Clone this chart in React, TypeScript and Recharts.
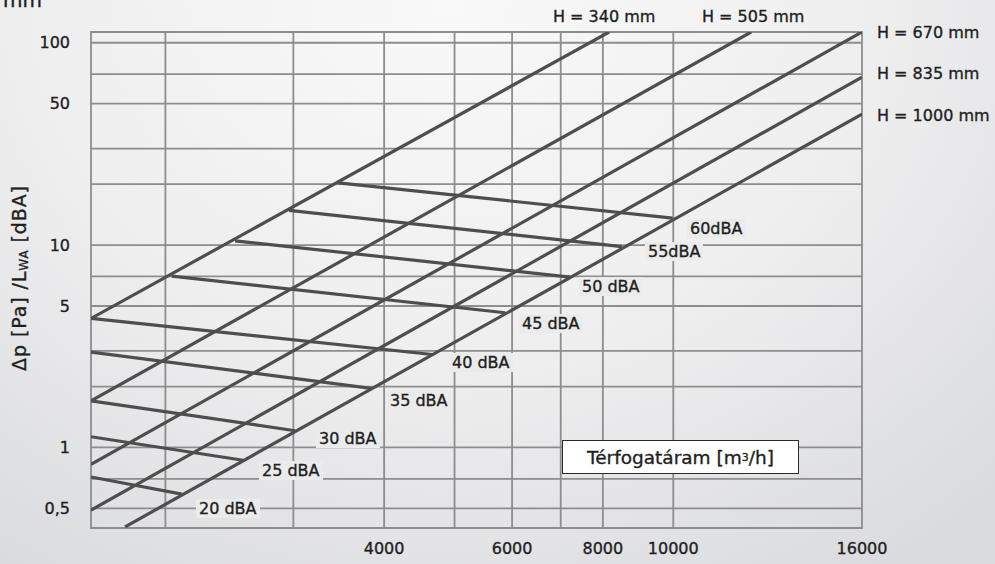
import React from "react";
import { LineChart, Line, XAxis, YAxis, CartesianGrid, ReferenceArea } from "recharts";

const FONT = "'DejaVu Sans', 'Liberation Sans', sans-serif";

// diagonal lines, one per unit height: flow [m3/h] and pressure drop [Pa] at both ends
const hNames = ["H = 340 mm", "H = 505 mm", "H = 670 mm", "H = 835 mm", "H = 1000 mm"];
const hFlow = [
  [1580, 8160],
  [1580, 12140],
  [1580, 16000],
  [1580, 16000],
  [1760, 16000],
];
const hDp = [
  [4.34, 113],
  [1.7, 113],
  [0.826, 113],
  [0.49, 67.6],
  [0.405, 44.4],
];

// sound power lines
const dbaNames = ["20 dBA", "25 dBA", "30 dBA", "35 dBA", "40 dBA", "45 dBA", "50 dBA", "55dBA", "60dBA"];
const dbaFlow = [
  [1580, 2107],
  [1580, 2558],
  [1580, 3017],
  [1580, 3838],
  [1580, 4658],
  [2041, 5870],
  [2494, 7212],
  [2960, 8503],
  [3460, 9980],
];
const dbaDp = [
  [0.715, 0.588],
  [1.13, 0.865],
  [1.7, 1.21],
  [2.96, 1.96],
  [4.34, 2.88],
  [7.02, 4.63],
  [10.5, 6.95],
  [14.85, 9.83],
  [20.3, 13.6],
];

const xTicks = [4000, 6000, 8000, 10000, 16000];
const xGrid = [2000, 3000, 4000, 5000, 6000, 7000, 8000, 9000, 10000];
const yTicks = [0.5, 1, 5, 10, 50, 100];
const yGrid = [0.5, 0.6, 0.7, 0.8, 0.9, 1, 2, 3, 4, 5, 6, 7, 8, 9, 10, 20, 30, 40, 50, 60, 70, 80, 90, 100];

const Q_MIN = 1580;
const Q_MAX = 16000;
const DP_MIN = 0.4;
const DP_MAX = 113;

// the printed axis is logarithmic up to 10000, the last section (10000-16000) is drawn wider
const STRETCH = 1.2724;

function axisPos(q: number) {
  const l = Math.log10(q);
  return l <= 4 ? l : 4 + (l - 4) * STRETCH;
}

function flowAt(u: number) {
  return u <= 4 ? Math.pow(10, u) : Math.pow(10, 4 + (u - 4) / STRETCH);
}

const GRID = "#8d8d8d";
const INK = "#4e4e4e";
const TEXT = "#1f1f1f";

// annotation placement (left x, centre y)
const hLabelPos = [
  [553, 16],
  [702, 16],
  [877, 32],
  [877, 73],
  [877, 115],
];
const dbaLabelPos = [
  [199, 508],
  [262, 470],
  [319, 438],
  [390, 400],
  [452, 362],
  [522, 323],
  [582, 286],
  [648, 251],
  [690, 228],
];

function toRows(flow: number[], dp: number[]) {
  return flow.map((q, j) => ({ u: axisPos(q), dp: dp[j] }));
}

export default function App() {
  const labelStyle: React.CSSProperties = {
    position: "absolute",
    fontFamily: FONT,
    fontSize: 16,
    lineHeight: "17px",
    color: TEXT,
    whiteSpace: "nowrap",
    WebkitTextStroke: "0.35px " + TEXT,
  };
  const tickStyle = {
    fill: TEXT,
    fontSize: 16,
    fontFamily: FONT,
    stroke: TEXT,
    strokeWidth: 0.35,
  };

  return (
    <div
      style={{
        position: "absolute",
        left: 0,
        top: 0,
        width: 995,
        height: 564,
        overflow: "hidden",
        background:
          "radial-gradient(ellipse 80% 120% at 45% 0%, #f9f9f9 0%, #eeeeef 55%, #dadbde 100%)",
      }}
    >
      <LineChart
        width={995}
        height={564}
        margin={{ top: 32, right: 133, bottom: 6, left: 31 }}
      >
        <CartesianGrid
          stroke={GRID}
          strokeWidth={1.8}
          horizontalValues={yGrid}
          verticalValues={xGrid.map(axisPos)}
        />
        <ReferenceArea
          x1={axisPos(Q_MIN)}
          x2={axisPos(Q_MAX)}
          y1={DP_MIN}
          y2={DP_MAX}
          fill="none"
          fillOpacity={0}
          stroke={GRID}
          strokeWidth={1.8}
        />
        <XAxis
          dataKey="u"
          type="number"
          domain={[axisPos(Q_MIN), axisPos(Q_MAX)]}
          ticks={xTicks.map(axisPos)}
          tickFormatter={(v: number) => String(Math.round(flowAt(v) / 1000) * 1000)}
          allowDataOverflow
          axisLine={false}
          tickLine={false}
          tickSize={0}
          tickMargin={15}
          height={30}
          tick={tickStyle}
        />
        <YAxis
          type="number"
          scale="log"
          domain={[DP_MIN, DP_MAX]}
          ticks={yTicks}
          tickFormatter={(v: number) => String(v).replace(".", ",")}
          allowDataOverflow
          axisLine={false}
          tickLine={false}
          tickSize={0}
          tickMargin={21}
          width={60}
          tick={tickStyle}
        />
        {hNames.map((name, i) => (
          <Line
            key={name}
            name={name}
            data={toRows(hFlow[i], hDp[i])}
            dataKey="dp"
            type="linear"
            stroke={INK}
            strokeWidth={3.2}
            dot={false}
            activeDot={false}
            isAnimationActive={false}
          />
        ))}
        {dbaNames.map((name, i) => (
          <Line
            key={name}
            name={name}
            data={toRows(dbaFlow[i], dbaDp[i])}
            dataKey="dp"
            type="linear"
            stroke={INK}
            strokeWidth={3.2}
            dot={false}
            activeDot={false}
            isAnimationActive={false}
          />
        ))}
      </LineChart>

      <div style={{ ...labelStyle, left: 3, top: -10, fontSize: 20, lineHeight: "20px" }}>mm</div>

      {hNames.map((name, i) => (
        <div key={name} style={{ ...labelStyle, left: hLabelPos[i][0], top: hLabelPos[i][1] - 8.5 }}>
          {name}
        </div>
      ))}

      {dbaNames.map((name, i) => (
        <div
          key={name}
          style={{
            ...labelStyle,
            left: dbaLabelPos[i][0] - 3,
            top: dbaLabelPos[i][1] - 9,
            padding: "1px 3px",
            background: "#ebebeb",
          }}
        >
          {name}
        </div>
      ))}

      <div
        style={{
          position: "absolute",
          left: 562,
          top: 440,
          width: 237,
          height: 34,
          boxSizing: "border-box",
          border: "1.5px solid #2a2a2a",
          background: "#ffffff",
          fontFamily: FONT,
          fontSize: 18.5,
          color: TEXT,
          WebkitTextStroke: "0.35px " + TEXT,
          display: "flex",
          alignItems: "center",
          justifyContent: "center",
          whiteSpace: "nowrap",
        }}
      >
        Térfogatáram [m<sup style={{ fontSize: "0.6em", verticalAlign: "0.55em" }}>3</sup>/h]
      </div>

      <svg
        width={60}
        height={564}
        style={{ position: "absolute", left: 0, top: 0, pointerEvents: "none" }}
      >
        <text
          x={19}
          y={278}
          transform="rotate(-90 19 278)"
          textAnchor="middle"
          dominantBaseline="central"
          fontFamily={FONT}
          fontSize={19}
          letterSpacing={0.9}
          fill={TEXT}
          stroke={TEXT}
          strokeWidth={0.35}
        >
          Δp [Pa] /L
          <tspan fontSize={12} dy={5}>WA</tspan>
          <tspan dy={-5}> [dBA]</tspan>
        </text>
      </svg>
    </div>
  );
}
